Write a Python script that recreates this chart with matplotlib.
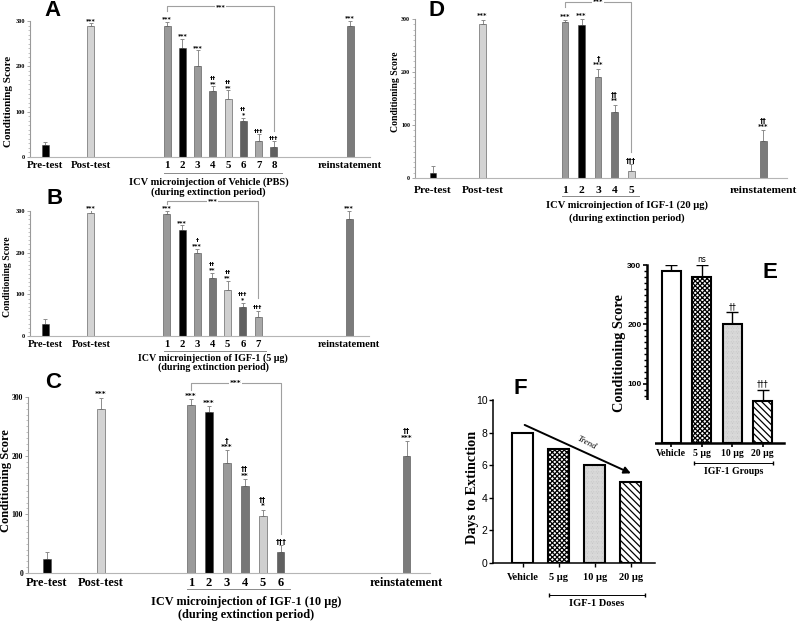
import matplotlib
matplotlib.use("Agg")
import matplotlib.pyplot as plt
import matplotlib.transforms as mtransforms
from matplotlib.ticker import MultipleLocator

W, H = 797, 622
SERIF = "Liberation Serif"
SANS = "Liberation Sans"
MARK = "DejaVu Sans"

# --- DATA ---
phase_labels = ["Pre-test", "Post-test"]
reinstate_label = "reinstatement"

a_scores = [27, 290, 290, 240, 200, 146, 128, 80, 35, 23, 290]
a_err = [7, 5, 8, 21, 35, 10, 19, 7, 15, 12, 11]
a_marks = ["", "***", "***", "***", "***", "††\n**", "††\n**", "††\n*", "†††", "†††", "***"]

b_scores = [29, 296, 292, 255, 200, 139, 110, 69, 45, 280]
b_err = [11, 6, 9, 11, 10, 13, 22, 11, 16, 20]
b_marks = ["", "***", "***", "***", "†\n***", "††\n**", "††\n**", "†††\n*", "†††", "***"]

c_scores = [24, 279, 287, 274, 188, 149, 98, 35, 200]
c_err = [11, 20, 9, 10, 21, 11, 10, 12, 25]
c_marks = ["", "***", "***", "***", "†\n***", "††\n**", "††\n*", "†††", "††\n***"]

d_scores = [9, 290, 295, 288, 190, 124, 14, 70]
d_err = [14, 9, 3, 12, 16, 14, 12, 20]
d_marks = ["", "***", "***", "***", "†\n***", "††\n**", "†††", "††\n***"]

dose_labels = ["Vehicle", "5 µg", "10 µg", "20 µg"]
e_scores = [290, 280, 200, 70]
e_err = [10, 20, 20, 20]
e_marks = ["", "ns", "††", "†††"]
f_days = [8, 7, 6, 5]

# --- STYLE ---
day_colors = ["#9a9a9a", "black", "#9a9a9a", "#777777", "#cfcfcf", "#606060", "#a8a8a8", "#606060"]
dose_hatches = [None, "xxxxxxx", "..........", "\\\\\\\\\\"]
dose_hatch_colors = ["black", "black", "#b0b0b0", "black"]

plt.rcParams["hatch.linewidth"] = 0.9
fig = plt.figure(figsize=(W / 100, H / 100), dpi=100)


def px_axes(left, top, right, bottom):
    return fig.add_axes([left / W, 1 - bottom / H, (right - left) / W, (bottom - top) / H])


def fy(py):
    return 1 - py / H


def extinction_panel(scores, errs, marks, title, cfg):
    ax = px_axes(*cfg["rect"])
    n_days = len(scores) - 3
    pos = [0, 3] + [8 + i for i in range(n_days)] + [20]
    labels = phase_labels + [str(i + 1) for i in range(n_days)] + [reinstate_label]
    colors = ["black", "#d3d3d3"] + day_colors[:n_days] + ["#7b7b7b"]

    ax.bar(pos, scores, width=cfg["bw"], color=colors, edgecolor="#4a4a4a", linewidth=0.4, zorder=2)
    ax.errorbar(pos, scores, yerr=[[0] * len(errs), errs], fmt="none", ecolor="#8c8c8c",
                elinewidth=0.7, capsize=1.3, capthick=0.7, zorder=1)
    for x, s, e, m in zip(pos, scores, errs, marks):
        if m:
            ax.annotate(m, (x, s + e), xytext=(0, 0.3), textcoords="offset points",
                        ha="center", va="bottom", fontsize=cfg["ms"], fontweight="bold",
                        family=MARK, linespacing=1.05, annotation_clip=False)

    # bracket day 1 -> last day
    lo1, top, lo2 = cfg["bracket"]
    x1, x2 = pos[2], pos[-2]
    ax.plot([x1, x1, x2, x2], [lo1, top, top, lo2], color="#a0a0a0", lw=0.8, clip_on=False)
    ax.text((x1 + x2) / 2, top, "***", ha="center", va="center", fontsize=cfg["ms"],
            fontweight="bold", family=MARK, bbox=dict(fc="white", ec="none", pad=0.3))

    ax.set_xlim(*cfg["xlim"])
    ax.set_ylim(0, 300)
    for side in ["top", "right"]:
        ax.spines[side].set_visible(False)
    ax.spines["left"].set_color("#9a9a9a")
    ax.spines["left"].set_linewidth(0.8)
    ax.spines["bottom"].set_color("#b5b5b5")
    ax.spines["bottom"].set_linewidth(0.8)
    ax.set_yticks([0, 100, 200, 300])
    ax.yaxis.set_minor_locator(MultipleLocator(10))
    ax.tick_params(axis="y", which="major", labelsize=cfg["yt"], color="#999999", length=2.5,
                   width=0.6, pad=1)
    ax.tick_params(axis="y", which="minor", color="#aaaaaa", length=1.3, width=0.5)
    for t in ax.get_yticklabels():
        t.set_fontweight("bold")
        t.set_family(SERIF)
    ax.set_xticks([])

    blend = mtransforms.blended_transform_factory(ax.transData, fig.transFigure)
    for x, lab in zip(pos, labels):
        ax.text(x, fy(cfg["tick_y"]), lab, transform=blend, ha="center", va="center",
                fontsize=cfg["tick_fs"], fontweight="bold", family=SERIF, clip_on=False)
    ax.plot([pos[2] - 0.2, pos[-2] + 0.5], [fy(cfg["under_y"])] * 2, transform=blend,
            color="#8a8a8a", lw=0.7, clip_on=False)
    ax.text(cfg["cx"], fy(cfg["lab_y"][0]), title, transform=blend, ha="center", va="center",
            fontsize=cfg["lab_fs"], fontweight="bold", family=SERIF)
    ax.text(cfg["cx"], fy(cfg["lab_y"][1]), "(during extinction period)", transform=blend,
            ha="center", va="center", fontsize=cfg["lab_fs"], fontweight="bold", family=SERIF)

    yx, yy, yfs = cfg["ylabel"]
    fig.text(yx / W, fy(yy), "Conditioning Score", rotation=90, ha="center", va="center",
             fontsize=yfs, fontweight="bold", family=SERIF)
    lx, ly, letter = cfg["letter"]
    fig.text(lx / W, fy(ly), letter, ha="center", va="center", fontsize=16,
             fontweight="bold", family=SANS)
    return ax


extinction_panel(a_scores, a_err, a_marks, "ICV microinjection of Vehicle (PBS)", dict(
    rect=(30, 21, 370, 157), xlim=(-1.0, 21.3), bw=0.46, tick_y=166, tick_fs=7.8,
    under_y=172.5, lab_y=(182, 192), lab_fs=7.5, cx=10.7, yt=4.5, ms=4.5,
    bracket=(323, 332, 57), ylabel=(9, 101, 8), letter=(53, 10, "A")))

extinction_panel(b_scores, b_err, b_marks, "ICV microinjection of IGF-1 (5 µg)", dict(
    rect=(30, 211, 369, 336), xlim=(-1.0, 21.3), bw=0.46, tick_y=344.7, tick_fs=7.7,
    under_y=350.7, lab_y=(358.3, 367), lab_fs=7.2, cx=11.05, yt=4.5, ms=4.5,
    bracket=(316, 324, 92), ylabel=(8, 277, 7), letter=(55, 199, "B")))

extinction_panel(c_scores, c_err, c_marks, "ICV microinjection of IGF-1 (10 µg)", dict(
    rect=(28, 397, 430, 573), xlim=(-1.05, 21.3), bw=0.42, tick_y=583.3, tick_fs=9,
    under_y=589, lab_y=(602, 615), lab_fs=8.8, cx=11.1, yt=5.5, ms=5.2,
    bracket=(312, 324, 67), ylabel=(6, 481, 9), letter=(53, 383, "C")))

extinction_panel(d_scores, d_err, d_marks, "ICV microinjection of IGF-1 (20 µg)", dict(
    rect=(415, 19, 787, 178), xlim=(-1.09, 21.45), bw=0.42, tick_y=190, tick_fs=8.2,
    under_y=196, lab_y=(205, 218), lab_fs=7.6, cx=11.75, yt=4.3, ms=4.8,
    bracket=(322, 333, 50), ylabel=(396, 92, 7), letter=(437, 10, "D")))


def dose_bars(ax, values, width):
    x = list(range(len(values)))
    for i, v in enumerate(values):
        ax.bar(x[i], v, width=width, color="white", edgecolor=dose_hatch_colors[i],
               hatch=dose_hatches[i], linewidth=0, zorder=2)
    ax.bar(x, values, width=width, fill=False, edgecolor="black", linewidth=1.5, zorder=3)
    return x


def group_bracket(ax, x1, x2, py_line, py_text, text, fs):
    blend = mtransforms.blended_transform_factory(ax.transData, fig.transFigure)
    ax.plot([x1, x2], [fy(py_line)] * 2, transform=blend, color="black", lw=0.7,
            marker="|", markersize=3, clip_on=False)
    ax.text((x1 + x2) / 2, fy(py_text), text, transform=blend, ha="center", va="center",
            fontsize=fs, fontweight="bold", family=SERIF)


# --- Panel E ---
ax = px_axes(647, 265, 784, 443)
xe = dose_bars(ax, e_scores, 0.62)
ax.errorbar(xe, e_scores, yerr=[[0] * 4, e_err], fmt="none", ecolor="black", elinewidth=1,
            capsize=4.5, capthick=1, zorder=1)
for x, s, e, m in zip(xe, e_scores, e_err, e_marks):
    if m:
        ax.annotate(m, (x, s + e), xytext=(0, 1), textcoords="offset points", ha="center",
                    va="bottom", fontsize=5.5, family=MARK, annotation_clip=False)
ax.set_xlim(-0.79, 3.7)
ax.set_ylim(0, 300)
for side in ["top", "right"]:
    ax.spines[side].set_visible(False)
for side in ["left", "bottom"]:
    ax.spines[side].set_linewidth(1.8)
ax.set_yticks([0, 100, 200, 300])
ax.yaxis.set_minor_locator(MultipleLocator(10))
ax.tick_params(axis="y", which="major", labelsize=6, length=3, width=1.2, pad=1)
ax.tick_params(axis="y", which="minor", length=2, width=1)
for t in ax.get_yticklabels():
    t.set_fontweight("bold")
    t.set_family(SANS)
ax.set_xticks(xe)
ax.set_xticklabels(dose_labels, fontsize=7, fontweight="bold", family=SERIF)
ax.tick_params(axis="x", length=3, width=1.2, pad=1)
group_bracket(ax, 0.75, 3.35, 463, 472, "IGF-1 Groups", 7)
fig.text(619 / W, fy(353), "Conditioning Score", rotation=90, ha="center", va="center",
         fontsize=10.3, fontweight="bold", family=SERIF)
fig.text(770 / W, fy(273), "E", ha="center", va="center", fontsize=16, fontweight="bold",
         family=SANS)

# --- Panel F ---
ax = px_axes(493, 400, 655, 563)
xf = dose_bars(ax, f_days, 0.58)
ax.set_xlim(-0.83, 3.67)
ax.set_ylim(0, 10)
for side in ["top", "right"]:
    ax.spines[side].set_visible(False)
for side in ["left", "bottom"]:
    ax.spines[side].set_linewidth(1.1)
ax.set_yticks(range(0, 11, 2))
ax.tick_params(axis="y", labelsize=7.5, length=3, width=1, pad=1)
for t in ax.get_yticklabels():
    t.set_family(SANS)
ax.set_xticks(xf)
ax.set_xticklabels(dose_labels, fontsize=7.5, fontweight="bold", family=SERIF)
ax.tick_params(axis="x", length=3, width=1, pad=4)
group_bracket(ax, 0.72, 3.4, 595, 603, "IGF-1 Doses", 7.5)
ax.annotate("", xy=(3.0, 5.5), xytext=(0.05, 8.47),
            arrowprops=dict(arrowstyle="-|>", lw=1.4, color="black", mutation_scale=10,
                            shrinkA=0, shrinkB=0), annotation_clip=False)
ax.text(1.78, 7.36, "Trend", rotation=-27, ha="center", va="center", fontsize=6.5,
        style="italic", family=SERIF)
fig.text(473 / W, fy(487), "Days to Extinction", rotation=90, ha="center", va="center",
         fontsize=10.3, fontweight="bold", family=SERIF)
fig.text(520 / W, fy(389), "F", ha="center", va="center", fontsize=16, fontweight="bold",
         family=SANS)

fig.savefig("out.png", dpi=100)
